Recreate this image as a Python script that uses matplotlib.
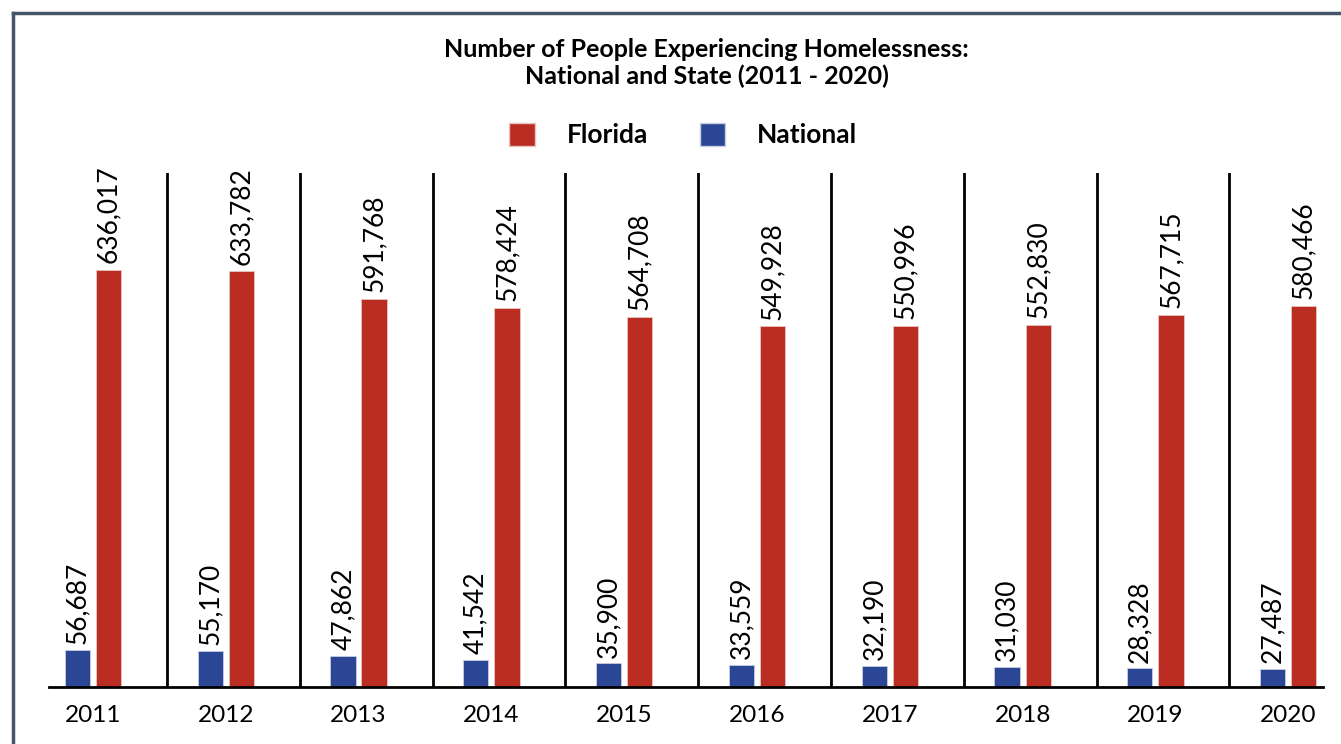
import numpy as np
import matplotlib
matplotlib.use("Agg")
import matplotlib.pyplot as plt
from matplotlib.patches import Patch
from matplotlib.lines import Line2D

years = ["2011", "2012", "2013", "2014", "2015", "2016", "2017", "2018", "2019", "2020"]
national = [56687, 55170, 47862, 41542, 35900, 33559, 32190, 31030, 28328, 27487]
florida = [636017, 633782, 591768, 578424, 564708, 549928, 550996, 552830, 567715, 580466]

RED = "#BB2D22"
BLUE = "#2B4694"

plt.rcParams['font.family'] = ['Lato', 'DejaVu Sans']

fig = plt.figure(figsize=(13.41, 7.44), dpi=100)
ax = fig.add_axes([49 / 1341, 57 / 744, 1274 / 1341, 514 / 744])

x = np.arange(len(years))
w = 0.19
off = 0.117
ax.bar(x - off, national, w, color=BLUE, edgecolor="#c8cde0", linewidth=0.6)
ax.bar(x + off, florida, w, color=RED, edgecolor="#e8c4c0", linewidth=0.6)

for xi, v in zip(x, national):
    ax.annotate(f"{v:,}", (xi - off, v), xytext=(0, 4), textcoords="offset points",
                rotation=90, ha="center", va="bottom", fontsize=19)
for xi, v in zip(x, florida):
    ax.annotate(f"{v:,}", (xi + off, v), xytext=(0, 5), textcoords="offset points",
                rotation=90, ha="center", va="bottom", fontsize=19)

for xi in x[:-1]:
    ax.axvline(xi + 0.557, color="black", lw=2)

ax.set_xlim(-0.331, 9.262)
ax.set_ylim(0, 784000)
ax.set_xticks(x)
ax.set_xticklabels(years, fontsize=17.6)
ax.tick_params(axis="x", length=0, pad=13)
ax.set_yticks([])
for s in ["top", "right", "left"]:
    ax.spines[s].set_visible(False)
ax.spines["bottom"].set_linewidth(2)

fig.text(0.527, 1 - 63 / 744,
         "Number of People Experiencing Homelessness:\nNational and State (2011 - 2020)",
         ha="center", va="center", fontsize=18, fontweight="bold", linespacing=1.2)

handles = [Patch(facecolor=RED, edgecolor="#e8c4c0"), Patch(facecolor=BLUE, edgecolor="#c8cde0")]
fig.legend(handles, ["Florida", "National"], loc="center", bbox_to_anchor=(0.5095, 1 - 135 / 744),
           ncol=2, frameon=False, handlelength=0.95, handleheight=0.95,
           handletextpad=1.21, columnspacing=1.97, prop={"weight": "bold", "size": 19})

# page frame
fig.add_artist(Line2D([13 / 1341, 13 / 1341], [0, 1 - 13 / 744], color="#44546a", lw=2.5,
                      transform=fig.transFigure))
fig.add_artist(Line2D([13 / 1341, 1], [1 - 13 / 744, 1 - 13 / 744], color="#44546a", lw=2.5,
                      transform=fig.transFigure))

fig.savefig("out.png", dpi=100)
